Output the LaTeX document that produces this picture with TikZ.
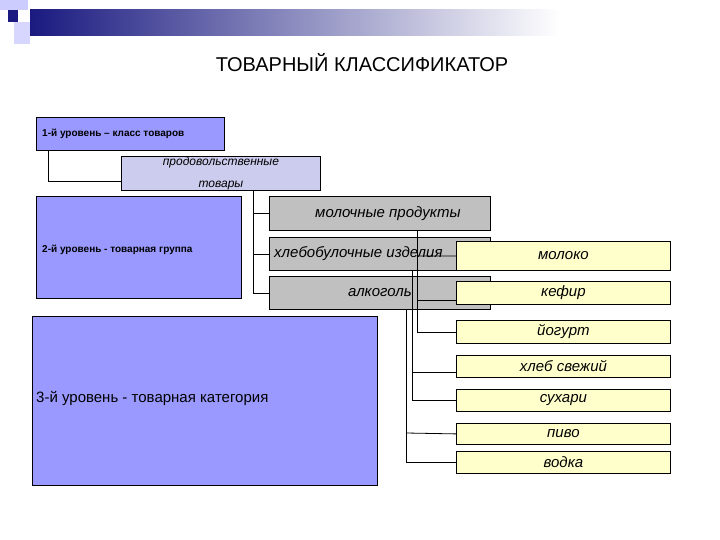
\documentclass[tikz,border=0pt]{standalone}
\usepackage{fontspec}
\setmainfont{Liberation Sans}
\begin{document}
\begin{tikzpicture}[x=1pt,y=-1pt,
  lvl/.style={draw=black,fill=lvlc,line width=0.8pt,inner sep=0pt},
  grey/.style={draw=black,fill=greyc,line width=0.8pt,inner sep=0pt},
  yel/.style={draw=black,fill=yelc,line width=0.8pt,inner sep=0pt},
  conn/.style={line width=0.8pt,black},
  lbl/.style={font=\fontsize{15}{17}\selectfont\itshape}]
\definecolor{lvlc}{HTML}{9999FF}
\definecolor{prodc}{HTML}{CCCCEE}
\definecolor{greyc}{HTML}{C0C0C0}
\definecolor{yelc}{HTML}{FFFFCC}
\definecolor{navy}{HTML}{1A1A80}
\useasboundingbox (0,0) rectangle (720,540);
% header decoration
\shade[left color=navy,right color=white] (30,10) rectangle (560,36);
\fill[lvlc!50] (0,0) rectangle (28,10);
\fill[lvlc!40] (14,22) rectangle (30,44);
\fill[navy] (8,10) rectangle (18,22);
\node (title) at (362,63) {\fontsize{20}{24}\selectfont ТОВАРНЫЙ КЛАССИФИКАТОР};
% level boxes
\node[lvl,minimum width=188pt,minimum height=33pt,anchor=north west] (b1) at (36,117) {};
\node[anchor=west,font=\fontsize{10}{12}\selectfont\bfseries,inner sep=0pt] (t1) at ([xshift=6pt]b1.west) {1-й уровень -- класс товаров};
\node[lvl,minimum width=205pt,minimum height=102pt,anchor=north west] (b2) at (36,196) {};
\node[anchor=west,font=\fontsize{10}{12}\selectfont\bfseries,inner sep=0pt] (t2) at ([xshift=6pt,yshift=-2pt]b2.west) {2-й уровень - товарная группа};
\node[lvl,minimum width=345pt,minimum height=169pt,anchor=north west] (b3) at (32,316) {};
\node[anchor=west,font=\fontsize{15}{17}\selectfont,inner sep=0pt] (t3) at ([xshift=4pt,yshift=2pt]b3.west) {3-й уровень - товарная категория};
\node[draw=black,fill=prodc,line width=0.8pt,minimum width=199pt,minimum height=34pt,anchor=north west,align=center,font=\fontsize{12}{22}\selectfont\itshape,inner sep=0pt] (prod) at (121,156) {продовольственные\\товары};
% grey
\node[grey,minimum width=221pt,minimum height=34pt,anchor=north west] (g1) at (269,196) {};
\node[lbl] at ([xshift=8pt]g1) {молочные продукты};
\node[grey,minimum width=221pt,minimum height=33pt,anchor=north west] (g2) at (269,237) {};
\node[lbl,anchor=west,inner sep=0pt] at ([xshift=5pt]g2.west) {хлебобулочные изделия};
\node[grey,minimum width=221pt,minimum height=33pt,anchor=north west] (g3) at (269,276) {};
\node[lbl] at ([xshift=0pt]g3) {алкоголь};
% connectors
\draw[conn] ([xshift=12pt]b1.south west) |- (prod.west |- 0,181);
\coordinate (pv) at (253,190);
\draw[conn] (pv) |- (g3.west);
\draw[conn] (pv |- g1.west) -- (g1.west);
\draw[conn] (pv |- g2.west) -- (g2.west);
% yellow
\foreach \n/\t/\y/\h in {y1/молоко/241/29,y2/кефир/281/23,y3/йогурт/320/23,y4/хлеб свежий/355/22,y5/сухари/389/22,y6/пиво/423/21,y7/водка/451/22}{
  \node[yel,minimum width=214pt,minimum height=\h pt,anchor=north west,lbl] (\n) at (456,\y) {\t};
}
\draw[conn] (417,230) |- (y3.west);
\draw[conn] (417,256) -- (y1.west);
\draw[conn] (417,300) -- (y2.west |- 0,300);
\draw[conn] (412,270) |- (y5.west);
\draw[conn] (412,372) -- (y4.west |- 0,372);
\draw[conn] (406,309) |- (y7.west);
\draw[conn] (406,433) -- (y6.west);
% redraw yellow boxes over lines
\foreach \n/\t/\y/\h in {y1/молоко/241/29,y2/кефир/281/23}{
  \node[yel,minimum width=214pt,minimum height=\h pt,anchor=north west,lbl] at (456,\y) {\t};
}
\end{tikzpicture}
\end{document}
